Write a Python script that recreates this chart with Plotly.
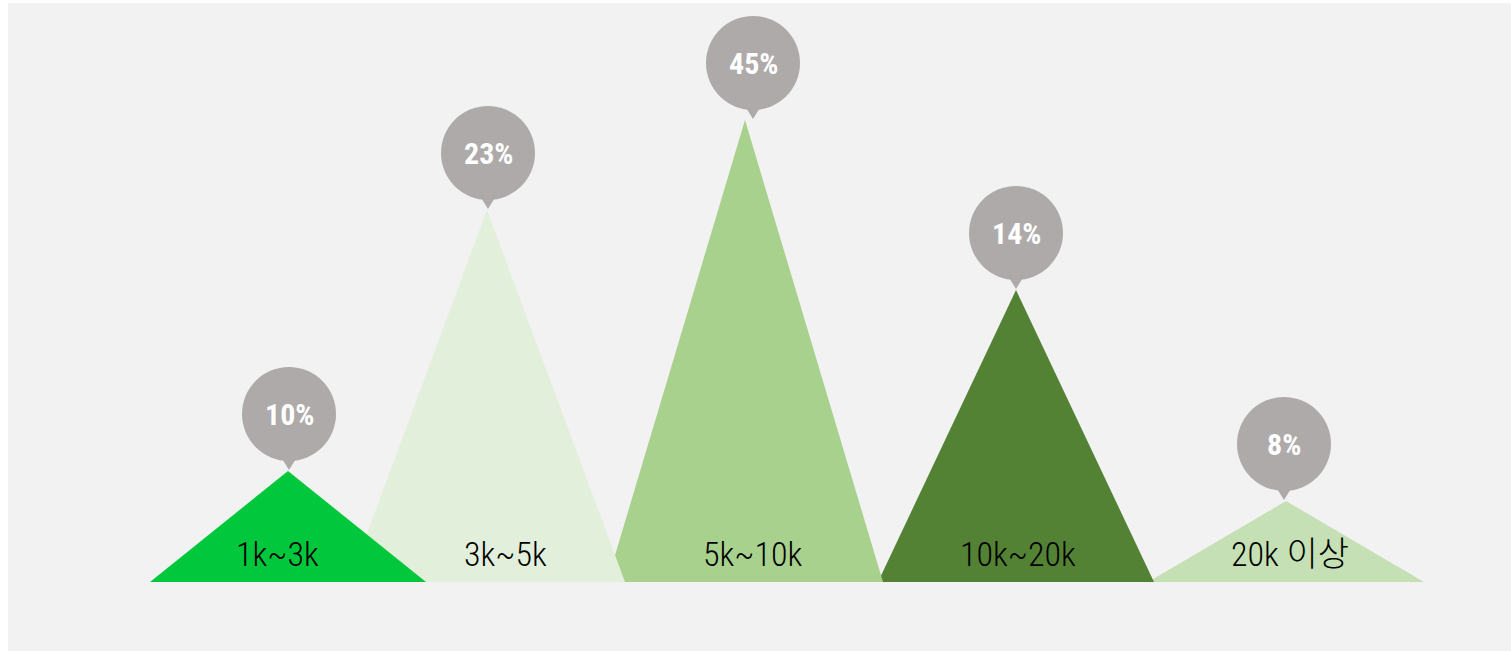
import plotly.graph_objects as go

# ---- data ----
categories = ["1k~3k", "3k~5k", "5k~10k", "10k~20k", "20k 이상"]
shares = [10, 23, 45, 14, 8]                 # percent labels in the pins
peak = [111, 372, 462, 292, 81]              # decorative peak heights (chart units)
colors = ["#00C73C", "#E2EFDA", "#A9D18E", "#548235", "#C5E0B4"]

# ---- layout / styling ----
W, H = 1511, 651
ML, MT = 8, 3
BASE_PX = 582                      # baseline pixel row
centers = [288, 487, 745, 1016, 1286]
HALF = 138
PIN_R = 47
PIN_GAP = 57
PIN_DX = [1, 1, 8, 0, -2]
LABEL_DX = [-11, 18, 8, 2, 4]
PIN_COLOR = "#AEAAAA"

fig = go.Figure()

# triangles: first category drawn last (on top)
for i in reversed(range(len(categories))):
    c = centers[i]
    fig.add_trace(go.Scatter(
        x=[c - HALF, c, c + HALF, c - HALF],
        y=[0, peak[i], 0, 0],
        mode="lines", fill="toself", fillcolor=colors[i],
        line=dict(width=0, color=colors[i]),
        hoverinfo="skip", showlegend=False,
    ))

# pins
for i in range(len(categories)):
    cx = centers[i] + PIN_DX[i]
    cy = peak[i] + PIN_GAP
    fig.add_trace(go.Scatter(
        x=[cx - 8, cx + 8, cx, cx - 8],
        y=[cy - 43, cy - 43, cy - PIN_GAP + 1, cy - 43],
        mode="lines", fill="toself", fillcolor=PIN_COLOR,
        line=dict(width=0, color=PIN_COLOR),
        hoverinfo="skip", showlegend=False,
    ))
    fig.add_shape(type="circle", xref="x", yref="y",
                  x0=cx - PIN_R, x1=cx + PIN_R, y0=cy - PIN_R, y1=cy + PIN_R,
                  fillcolor=PIN_COLOR, line=dict(width=0), layer="above")
    fig.add_annotation(x=cx, y=cy, text=f"<b>{shares[i]}%</b>", showarrow=False,
                       xanchor="center", yanchor="middle",
                       font=dict(family="Roboto Condensed, Liberation Sans Narrow, sans-serif",
                                 size=30, color="white"))

# category labels
for i, cat in enumerate(categories):
    fig.add_annotation(x=centers[i] + LABEL_DX[i], y=BASE_PX - 554, text=cat, showarrow=False,
                       xanchor="center", yanchor="middle",
                       font=dict(family="Roboto Condensed, Noto Sans CJK KR, sans-serif",
                                 size=34, color="#000000", weight=300))

fig.update_layout(
    width=W, height=H,
    margin=dict(l=ML, r=0, t=MT, b=0, pad=0),
    paper_bgcolor="white", plot_bgcolor="#F2F2F2",
    xaxis=dict(range=[ML, W], visible=False, fixedrange=True),
    yaxis=dict(range=[-(H - BASE_PX), BASE_PX - MT], visible=False, fixedrange=True),
    showlegend=False,
)

fig.write_html("out.html", config={"displayModeBar": False, "staticPlot": True},
               post_script="document.body.style.margin='0';document.body.style.overflow='hidden';")
